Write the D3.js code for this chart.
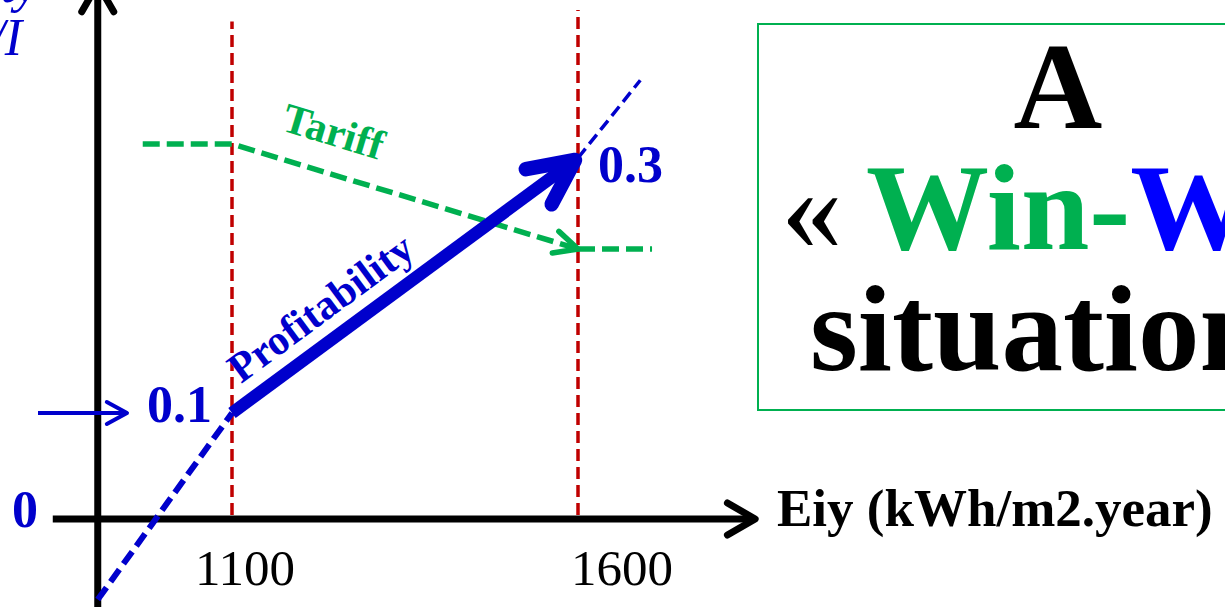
<!DOCTYPE html>
<html>
<head>
<meta charset="utf-8">
<script src="https://cdn.jsdelivr.net/npm/d3@7"></script>
<style>
  html, body { margin: 0; padding: 0; background: #fff; overflow: hidden; }
  svg { display: block; }
  text { font-family: "Liberation Serif", "Times New Roman", serif; }
</style>
</head>
<body>
<svg id="chart" width="1225" height="607"></svg>
<script>
// Irradiation (kWh/m2.year) and profitability index values
const xTicks = [1100, 1600];
const xAxisRange = [841, 1856];     // extent of the horizontal axis
const yAxisAt = 906;                // irradiation where the vertical axis stands

const profitX = [1100, 1600];
const profitY = [0.1, 0.3];
const trendLowX = [906, 1100];
const trendLowY = [-0.076, 0.1];
const trendHighX = [1600, 1690];
const trendHighY = [0.3, 0.361];

// Feed-in tariff (relative level) falling between the two irradiation levels
const tariffX = [971, 1100, 1600, 1707];
const tariffLevel = [1, 1, 0.72, 0.72];

const yLabels = [0, 0.1, 0.3];
const guideTop = [0.407, 0.416];    // upper end of the dotted guides, per tick

const BLUE = "#0000CC", GREEN = "#00B050", RED = "#C00000";

const svg = d3.select("#chart");

const x = d3.scaleLinear().domain([1100, 1600]).range([232, 578]);
// piecewise scale: the schematic stretches the 0.1 → 0.3 interval
const y = d3.scaleLinear().domain([0, 0.1, 0.3]).range([519, 413, 158]);
const yT = d3.scaleLinear().domain([0, 1]).range([519, 144]);

const line = d3.line().x(d => d[0]).y(d => d[1]);

// open chevron arrow head at (tx, ty) pointing along angle ang
function chevron(g, tx, ty, ang, len, half, color, width) {
  const back = ang + Math.PI;
  const a1 = back + half, a2 = back - half;
  g.append("path")
    .attr("d", line([[tx + len * Math.cos(a1), ty + len * Math.sin(a1)], [tx, ty],
                     [tx + len * Math.cos(a2), ty + len * Math.sin(a2)]]))
    .attr("fill", "none").attr("stroke", color).attr("stroke-width", width)
    .attr("stroke-linecap", "round").attr("stroke-linejoin", "round");
}

const g = svg.append("g");

// dotted red guides at the two irradiation levels
xTicks.forEach((v, i) => {
  g.append("line")
    .attr("x1", x(v)).attr("x2", x(v))
    .attr("y1", y(0) - 4).attr("y2", y(guideTop[i]))
    .attr("stroke", RED).attr("stroke-width", 3.5)
    .attr("stroke-dasharray", "12,6");
});

// axes
const ax0 = x(xAxisRange[0]), ax1 = x(xAxisRange[1]);
g.append("line").attr("x1", ax0).attr("x2", ax1 - 3)
  .attr("y1", y(0)).attr("y2", y(0))
  .attr("stroke", "#000").attr("stroke-width", 7);
chevron(g, ax1, y(0), 0, 32, Math.PI / 6, "#000", 7);

const ox = x(yAxisAt);
g.append("line").attr("x1", ox).attr("x2", ox)
  .attr("y1", 607).attr("y2", -13)
  .attr("stroke", "#000").attr("stroke-width", 7);
chevron(g, ox, -16, -Math.PI / 2, 32, Math.PI / 6, "#000", 7);

// tick labels under the horizontal axis
const tickShift = {1100: 13, 1600: 44};
g.selectAll(".xtick").data(xTicks).enter().append("text")
  .attr("class", "xtick")
  .attr("x", d => x(d) + tickShift[d]).attr("y", y(0) + 66)
  .attr("text-anchor", "middle")
  .attr("font-size", 51).attr("fill", "#000")
  .text(d => d);

g.append("text").attr("x", 777).attr("y", y(0) + 7)
  .attr("font-size", 53).attr("font-weight", "bold").attr("fill", "#000")
  .text("Eiy (kWh/m2.year)");

// vertical axis title (partly outside the frame)
g.append("text").attr("x", 38).attr("y", 2).attr("text-anchor", "end")
  .attr("font-size", 52).attr("font-style", "italic").attr("fill", BLUE)
  .text("Profitability");
g.append("text").attr("x", 22).attr("y", 55).attr("text-anchor", "end")
  .attr("font-size", 52).attr("font-style", "italic").attr("fill", BLUE)
  .text("NPV/I");

// tariff trend
const tPts = tariffX.map((v, i) => [x(v), yT(tariffLevel[i])]);
g.append("path").attr("d", line(tPts.slice(0, 3)))
  .attr("fill", "none").attr("stroke", GREEN).attr("stroke-width", 5.5)
  .attr("stroke-dasharray", "17,7");
g.append("path").attr("d", line(tPts.slice(2)))
  .attr("fill", "none").attr("stroke", GREEN).attr("stroke-width", 5.5)
  .attr("stroke-dasharray", "17,7");
chevron(g, tPts[2][0], tPts[2][1],
  Math.atan2(tPts[2][1] - tPts[1][1], tPts[2][0] - tPts[1][0]), 26, 0.45, GREEN, 5.5);

const tAng = Math.atan2(tPts[2][1] - tPts[1][1], tPts[2][0] - tPts[1][0]) * 180 / Math.PI;
g.append("text")
  .attr("transform", `translate(${x(1100) + 48},${yT(1) - 14}) rotate(${tAng})`)
  .attr("font-size", 42).attr("font-weight", "bold").attr("fill", GREEN)
  .text("Tariff");

// profitability: dashed extrapolation and the solid rise
g.append("path").attr("d", line(trendLowX.map((v, i) => [x(v), y(trendLowY[i])])))
  .attr("fill", "none").attr("stroke", BLUE).attr("stroke-width", 6)
  .attr("stroke-dasharray", "15,7");
g.append("path").attr("d", line(trendHighX.map((v, i) => [x(v), y(trendHighY[i])])))
  .attr("fill", "none").attr("stroke", BLUE).attr("stroke-width", 3.5)
  .attr("stroke-dasharray", "12,6");

const pPts = profitX.map((v, i) => [x(v), y(profitY[i])]);
const pAng = Math.atan2(pPts[1][1] - pPts[0][1], pPts[1][0] - pPts[0][0]);
g.append("path").attr("d", line([pPts[0], [pPts[1][0] - 6 * Math.cos(pAng), pPts[1][1] - 6 * Math.sin(pAng)]]))
  .attr("fill", "none").attr("stroke", BLUE).attr("stroke-width", 12.5);
chevron(g, pPts[1][0] - 3, pPts[1][1] + 2, pAng, 50, 0.45, BLUE, 14.5);

g.append("text")
  .attr("transform", `translate(${x(1100) + 9},${y(0.1) - 29}) rotate(${pAng * 180 / Math.PI})`)
  .attr("font-size", 42).attr("font-weight", "bold").attr("fill", BLUE)
  .text("Profitability");

// value labels
g.append("text").attr("x", 25).attr("y", y(yLabels[0]) + 8).attr("text-anchor", "middle")
  .attr("font-size", 52).attr("font-weight", "bold").attr("fill", BLUE).text(yLabels[0]);
g.append("text").attr("x", 147).attr("y", y(yLabels[1]) + 9)
  .attr("font-size", 52).attr("font-weight", "bold").attr("fill", BLUE).text(yLabels[1]);
g.append("text").attr("x", x(1600) + 20).attr("y", y(yLabels[2]) + 24)
  .attr("font-size", 52).attr("font-weight", "bold").attr("fill", BLUE).text(yLabels[2]);

// small pointer to the 0.1 starting value
g.append("line").attr("x1", 38).attr("x2", 125)
  .attr("y1", y(0.1)).attr("y2", y(0.1))
  .attr("stroke", BLUE).attr("stroke-width", 4);
chevron(g, 127, y(0.1), 0, 23, 0.5, BLUE, 4);

// message box
const box = svg.append("g");
box.append("rect").attr("x", 758).attr("y", 24).attr("width", 520).attr("height", 386)
  .attr("fill", "none").attr("stroke", GREEN).attr("stroke-width", 2);
box.append("text").attr("x", 1058).attr("y", 128).attr("text-anchor", "middle")
  .attr("font-size", 123).attr("font-weight", "bold").attr("fill", "#000").text("A");
box.append("text").attr("x", 781).attr("y", 249)
  .attr("font-size", 123).attr("fill", "#000").text("«");
const l2 = box.append("text").attr("x", 866).attr("y", 249)
  .attr("font-size", 123).attr("font-weight", "bold");
l2.append("tspan").attr("fill", GREEN).text("Win-");
l2.append("tspan").attr("fill", "#0000FF").text("Win »");
box.append("text").attr("x", 810).attr("y", 370)
  .attr("font-size", 123).attr("font-weight", "bold").attr("fill", "#000").text("situation");
</script>
</body>
</html>
